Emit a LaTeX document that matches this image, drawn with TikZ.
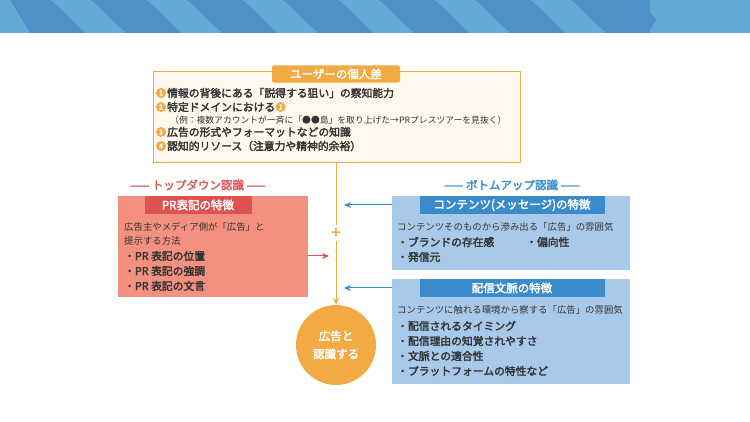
\documentclass[tikz,border=0pt]{standalone}
\usepackage{fontspec}
\newfontfamily\jp{Noto Sans CJK JP}
\newfontfamily\jpb{Noto Sans CJK JP}[FakeBold=2.5]
\usetikzlibrary{arrows.meta}
\definecolor{org}{HTML}{F2AA45}
\definecolor{cream}{HTML}{FFF8EC}
\definecolor{rbox}{HTML}{F4907F}
\definecolor{rtab}{HTML}{E05252}
\definecolor{rtxt}{HTML}{E0585A}
\definecolor{bbox}{HTML}{A9C9EA}
\definecolor{btab}{HTML}{3A8BCB}
\definecolor{btxt}{HTML}{3A8FCC}
\definecolor{sdark}{HTML}{5090C8}
\definecolor{slight}{HTML}{62AAD6}
\definecolor{txt}{HTML}{333333}
\begin{document}
\begin{tikzpicture}[x=1pt,y=-1pt,
  tab/.style={anchor=center,text=white,font=\jpb\fontsize{11.5}{12}\selectfont},
  t/.style={anchor=west,inner sep=0,text=txt,font=\jp\fontsize{9.4}{10}\selectfont},
  b/.style={anchor=west,inner sep=0,text=txt,font=\jpb\fontsize{10.8}{11}\selectfont},
  num/.style={circle,fill=org,inner sep=0,minimum size=10pt,text=white,font=\jpb\fontsize{7}{7}\selectfont}]
\useasboundingbox (0,0) rectangle (750,422);
\fill[white] (0,0) rectangle (750,422);
% stripes
\fill[sdark] (0,0) rectangle (650,33);
\fill[slight] (650,0) rectangle (750,33);
\foreach \i in {0,...,6}{
  \fill[slight] ({-45+96*\i},0) -- ({-5+96*\i},0) -- ({30+96*\i},33) -- ({-10+96*\i},33) -- cycle;
}
\fill[slight] (0,0) -- (0,33) -- (30,33) -- (10,0) -- cycle;
\fill[sdark] (630,0) -- (640,0) -- (656,20) -- (648,33) -- (638,33) -- cycle;
% top box
\draw[org,fill=cream,line width=1pt] (153,72) rectangle (520,163);
\node[fill=org,minimum width=128pt,minimum height=16pt,rounded corners=2pt,tab] (ut) at (336,74) {ユーザーの個人差};
\node[num] (n1) at (161,93) {1}; \node[b] (l1) at (167,93) {情報の背後にある「説得する狙い」の察知能力};
\node[num] (n2) at (161,107) {2}; \node[b] (l2) at (167,107) {特定ドメインにおける};
\node[num,anchor=west] (n2b) at (l2.east) {1};
\node[t,font=\jp\fontsize{8.8}{9}\selectfont] (l2s) at (170,120) {（例：複数アカウントが一斉に「●●島」を取り上げた→PRプレスツアーを見抜く）};
\node[num] (n3) at (161,132) {3}; \node[b] (l3) at (167,132) {広告の形式やフォーマットなどの知識};
\node[num] (n4) at (161,146) {4}; \node[b] (l4) at (167,146) {認知的リソース（注意力や精神的余裕）};
% center line
\coordinate (c1) at (336,163);
\coordinate (c2) at (336,225);
\coordinate (c3) at (336,241);
\node[text=org,font=\jpb\fontsize{16}{16}\selectfont] (plus) at (336,233) {+};
\node[circle,fill=org,minimum size=80pt,inner sep=0,align=center,text=white,font=\jpb\fontsize{11.5}{18}\selectfont] (goal) at (336,345) {広告と\\認識する};
\draw[org,line width=1pt] (c1) -- (c2);
\draw[org,line width=1pt,-{Stealth[length=7pt,width=6pt]}] (c3) -- (goal.north);
% red side
\node[text=rtxt,font=\jpb\fontsize{11.5}{12}\selectfont] (td) at (198,185) {—— トップダウン認識 ——};
\fill[rbox] (118,196) rectangle (308,297);
\node[fill=rtab,minimum width=107pt,minimum height=17pt,tab] (rt) at (198,205) {PR表記の特徴};
\node[t] (r1) at (124,227) {広告主やメディア側が「広告」と};
\node[t] (r2) at (124,241) {提示する方法};
\node[b] (r3) at (124,256) {・PR 表記の位置};
\node[b] (r4) at (124,271) {・PR 表記の強調};
\node[b] (r5) at (124,286) {・PR 表記の文言};
\coordinate (ra) at (308,256); \coordinate (rb) at (329,256);
\draw[rtab,line width=1pt,-{Stealth[length=7pt,width=6pt]}] (ra) -- (rb);
% blue side
\node[text=btxt,font=\jpb\fontsize{11.5}{12}\selectfont] (bu) at (512,185) {—— ボトムアップ認識 ——};
\fill[bbox] (392,196) rectangle (630,270);
\node[fill=btab,minimum width=185pt,minimum height=17pt,tab] (bt1) at (512,205) {コンテンツ(メッセージ)の特徴};
\node[t] (a1) at (397,227) {コンテンツそのものから滲み出る「広告」の雰囲気};
\node[b] (a2) at (397,242) {・ブランドの存在感};
\node[b] (a3) at (526,242) {・偏向性};
\node[b] (a4) at (397,257) {・発信元};
\fill[bbox] (392,279) rectangle (630,384);
\node[fill=btab,minimum width=185pt,minimum height=17pt,tab] (bt2) at (512,288) {配信文脈の特徴};
\node[t] (d1) at (397,310) {コンテンツに触れる環境から察する「広告」の雰囲気};
\node[b] (d2) at (397,326) {・配信されるタイミング};
\node[b] (d3) at (397,341) {・配信理由の知覚されやすさ};
\node[b] (d4) at (397,356) {・文脈との適合性};
\node[b] (d5) at (397,371) {・プラットフォームの特性など};
\coordinate (ba1) at (392,205); \coordinate (bb1) at (344,205);
\coordinate (ba2) at (392,288); \coordinate (bb2) at (344,288);
\draw[btab,line width=1pt,-{Stealth[length=7pt,width=6pt]}] (ba1) -- (bb1);
\draw[btab,line width=1pt,-{Stealth[length=7pt,width=6pt]}] (ba2) -- (bb2);
\end{tikzpicture}
\end{document}
